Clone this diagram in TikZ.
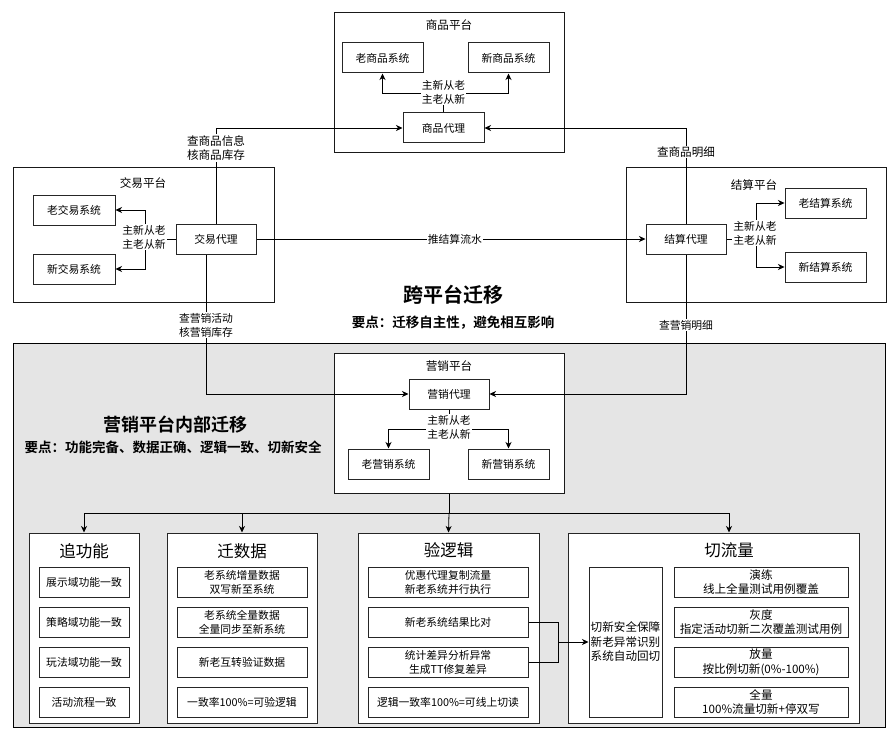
\documentclass[tikz,border=0pt]{standalone}
\usepackage{fontspec}
\setmainfont{Noto Sans CJK SC}[BoldFont={Noto Sans CJK SC Bold}]
\usetikzlibrary{arrows.meta}
\newcommand{\txtn}{\fontsize{10.8}{14}\selectfont}
\newcommand{\txtl}{\fontsize{11.6}{14.5}\selectfont}
\newcommand{\txtg}{\fontsize{16.5}{20}\selectfont}
\newcommand{\txtb}{\fontsize{20}{24}\selectfont\bfseries}
\newcommand{\txtm}{\fontsize{18}{22}\selectfont\bfseries}
\newcommand{\txts}{\fontsize{13.5}{16}\selectfont\bfseries}
\begin{document}
\begin{tikzpicture}[x=1pt,y=-1pt,
  sz/.style 2 args={minimum width=#1pt, minimum height=#2pt},
  box/.style={draw=black!85, line width=1pt, fill=white, inner sep=0pt, align=center, font=\txtn},
  bigbox/.style={box, font=\txtl},
  platform/.style={draw=black!90, line width=1pt, fill=white, inner sep=0pt},
  group/.style={draw=black!85, line width=1pt, fill=white, inner sep=0pt},
  ttl/.style={inner sep=0pt, font=\txtl},
  gttl/.style={inner sep=0pt, font=\txtg},
  lbl/.style={fill=white, inner sep=1pt, align=center, font=\txtn},
  lbll/.style={lbl, font=\txtl},
  link/.style={draw=black, line width=0.8pt},
  arr/.style={link, -{Stealth[length=6.5pt, width=6pt, inset=2pt]}}
]
\useasboundingbox (0,0) rectangle (894,741);
\fill[white] (0,0) rectangle (894,741);

% shaded area for the in-platform migration
\node[draw=black, line width=1pt, fill=black!10, sz={872}{384}, inner sep=0pt] (inner) at (449,535) {};

% ---------- 商品平台 ----------
\node[platform, sz={230}{140}] (sPlat) at (449,83) {};
\node[ttl] (sTitle) at (449,25) {商品平台};
\node[box, sz={81}{30}] (sOld) at (382.5,58) {老商品系统};
\node[box, sz={81}{30}] (sNew) at (508.5,58) {新商品系统};
\node[box, sz={81}{30}] (sP) at (443.5,128) {商品代理};
\coordinate (sFork) at (443.5,93);
\draw[arr] (sP.north) -- (sFork) -| (sOld.south);
\draw[arr] (sFork) -| (sNew.south);
\node[lbl] (sLbl) at (443.5,92) {主新从老\\主老从新};

% ---------- 交易平台 ----------
\node[platform, sz={261}{135}] (jPlat) at (143.5,234.5) {};
\node[ttl] (jTitle) at (143,183) {交易平台};
\node[box, sz={82}{30}] (jOld) at (74,210) {老交易系统};
\node[box, sz={82}{30}] (jNew) at (74,269) {新交易系统};
\node[box, sz={80}{30}] (jP) at (216,239) {交易代理};
\coordinate (jFork) at (145,239);
\draw[arr] (jP.west) -- (jFork) |- (jOld.east);
\draw[arr] (jFork) |- (jNew.east);
\node[lbl] (jLbl) at (144,237) {主新从老\\主老从新};

% ---------- 结算平台 ----------
\node[platform, sz={260}{135}] (tPlat) at (756,234.5) {};
\node[ttl] (tTitle) at (754,185) {结算平台};
\node[box, sz={80}{30}] (tP) at (686,239) {结算代理};
\node[box, sz={81}{30}] (tOld) at (825.5,203) {老结算系统};
\node[box, sz={81}{30}] (tNew) at (825.5,267) {新结算系统};
\coordinate (tFork) at (756,239);
\draw[arr] (tP.east) -- (tFork) |- (tOld.west);
\draw[arr] (tFork) |- (tNew.west);
\node[lbl] (tLbl) at (755,233) {主新从老\\主老从新};

% ---------- 营销平台 ----------
\node[platform, sz={230}{140}] (mPlat) at (449,423) {};
\node[ttl] (mTitle) at (449,366) {营销平台};
\node[box, sz={80}{30}] (mP) at (449,394) {营销代理};
\node[box, sz={81}{30}] (mOld) at (388.5,464) {老营销系统};
\node[box, sz={81}{30}] (mNew) at (508.5,464) {新营销系统};
\coordinate (mFork) at (449,429);
\draw[arr] (mP.south) -- (mFork) -| (mOld.north);
\draw[arr] (mFork) -| (mNew.north);
\node[lbl] (mLbl) at (449,427) {主新从老\\主老从新};

% ---------- cross-platform calls ----------
\draw[arr] (jP.east) -- node[lbl, pos=0.51] {推结算流水} (tP.west);
\draw[arr] (jP.north) |- (sP.west);
\node[lbll] (lblA) at (216,148) {查商品信息\\核商品库存};
\draw[arr] (tP.north) |- (sP.east);
\node[lbll] (lblB) at (686,152) {查商品明细};
\draw[arr] ([xshift=-10pt]jP.south) |- (mP.west);
\node[lbl] (lblC) at (206,325) {查营销活动\\核营销库存};
\draw[arr] (tP.south) |- (mP.east);
\node[lbl] (lblD) at (686,325) {查营销明细};

% ---------- headings ----------
\node[inner sep=0pt, font=\txtb] (h1) at (453,295) {跨平台迁移};
\node[inner sep=0pt, font=\txts] (h1s) at (453,323) {要点：迁移自主性，避免相互影响};
\node[inner sep=0pt, font=\txtm] (h2) at (175,425) {营销平台内部迁移};
\node[inner sep=0pt, font=\txts] (h2s) at (173,447) {要点：功能完备、数据正确、逻辑一致、切新安全};

% ---------- four work streams ----------
\node[group, sz={110}{190}] (g1) at (84,628) {};
\node[group, sz={150}{190}] (g2) at (242,628) {};
\node[group, sz={181}{190}] (g3) at (448.5,628) {};
\node[group, sz={291}{190}] (g4) at (713.5,628) {};
\node[gttl] (g1t) at (84,551) {追功能};
\node[gttl] (g2t) at (242,551) {迁数据};
\node[gttl] (g3t) at (448.5,550) {验逻辑};
\node[gttl] (g4t) at (729,550) {切流量};

\coordinate (bus) at (449,513);
\draw[arr] (mPlat.south) -- (bus) -| (g1.north);
\draw[arr] (bus) -| (g2.north);
\draw[arr] (bus) -- (g3.north);
\draw[arr] (bus) -| ([xshift=15.5pt]g4.north);

% 追功能
\node[box, sz={90}{30}] (a1) at (84,582) {展示域功能一致};
\node[box, sz={90}{30}] (a2) at (84,622) {策略域功能一致};
\node[box, sz={90}{30}] (a3) at (84,662) {玩法域功能一致};
\node[box, sz={90}{30}] (a4) at (84,702) {活动流程一致};

% 迁数据
\node[box, sz={130}{30}] (b1) at (242,582) {老系统增量数据\\双写新至系统};
\node[box, sz={130}{30}] (b2) at (242,622) {老系统全量数据\\全量同步至新系统};
\node[box, sz={130}{30}] (b3) at (242,662) {新老互转验证数据};
\node[box, sz={130}{30}] (b4) at (242,702) {一致率100\%=可验逻辑};

% 验逻辑
\node[box, sz={160}{30}] (c1) at (448,582) {优惠代理复制流量\\新老系统并行执行};
\node[box, sz={160}{30}] (c2) at (448,622) {新老系统结果比对};
\node[box, sz={160}{30}] (c3) at (448,662) {统计差异分析异常\\生成TT修复差异};
\node[box, sz={160}{30}] (c4) at (448,702) {逻辑一致率100\%=可线上切读};

% 切流量
\node[bigbox, sz={73}{150}] (d0) at (625.5,642) {切新安全保障\\新老异常识别\\系统自动回切};
\node[bigbox, sz={174}{30}] (d1) at (761,582) {演练\\线上全量测试用例覆盖};
\node[bigbox, sz={174}{30}] (d2) at (761,622) {灰度\\指定活动切新二次覆盖测试用例};
\node[bigbox, sz={174}{30}] (d3) at (761,662) {放量\\按比例切新(0\%-100\%)};
\node[bigbox, sz={174}{30}] (d4) at (761,702) {全量\\100\%流量切新+停双写};

\coordinate (cJoin) at (558,642);
\draw[link] (c2.east) -| (cJoin);
\draw[link] (c3.east) -| (cJoin);
\draw[arr] (cJoin) -- (d0.west);
\end{tikzpicture}
\end{document}
